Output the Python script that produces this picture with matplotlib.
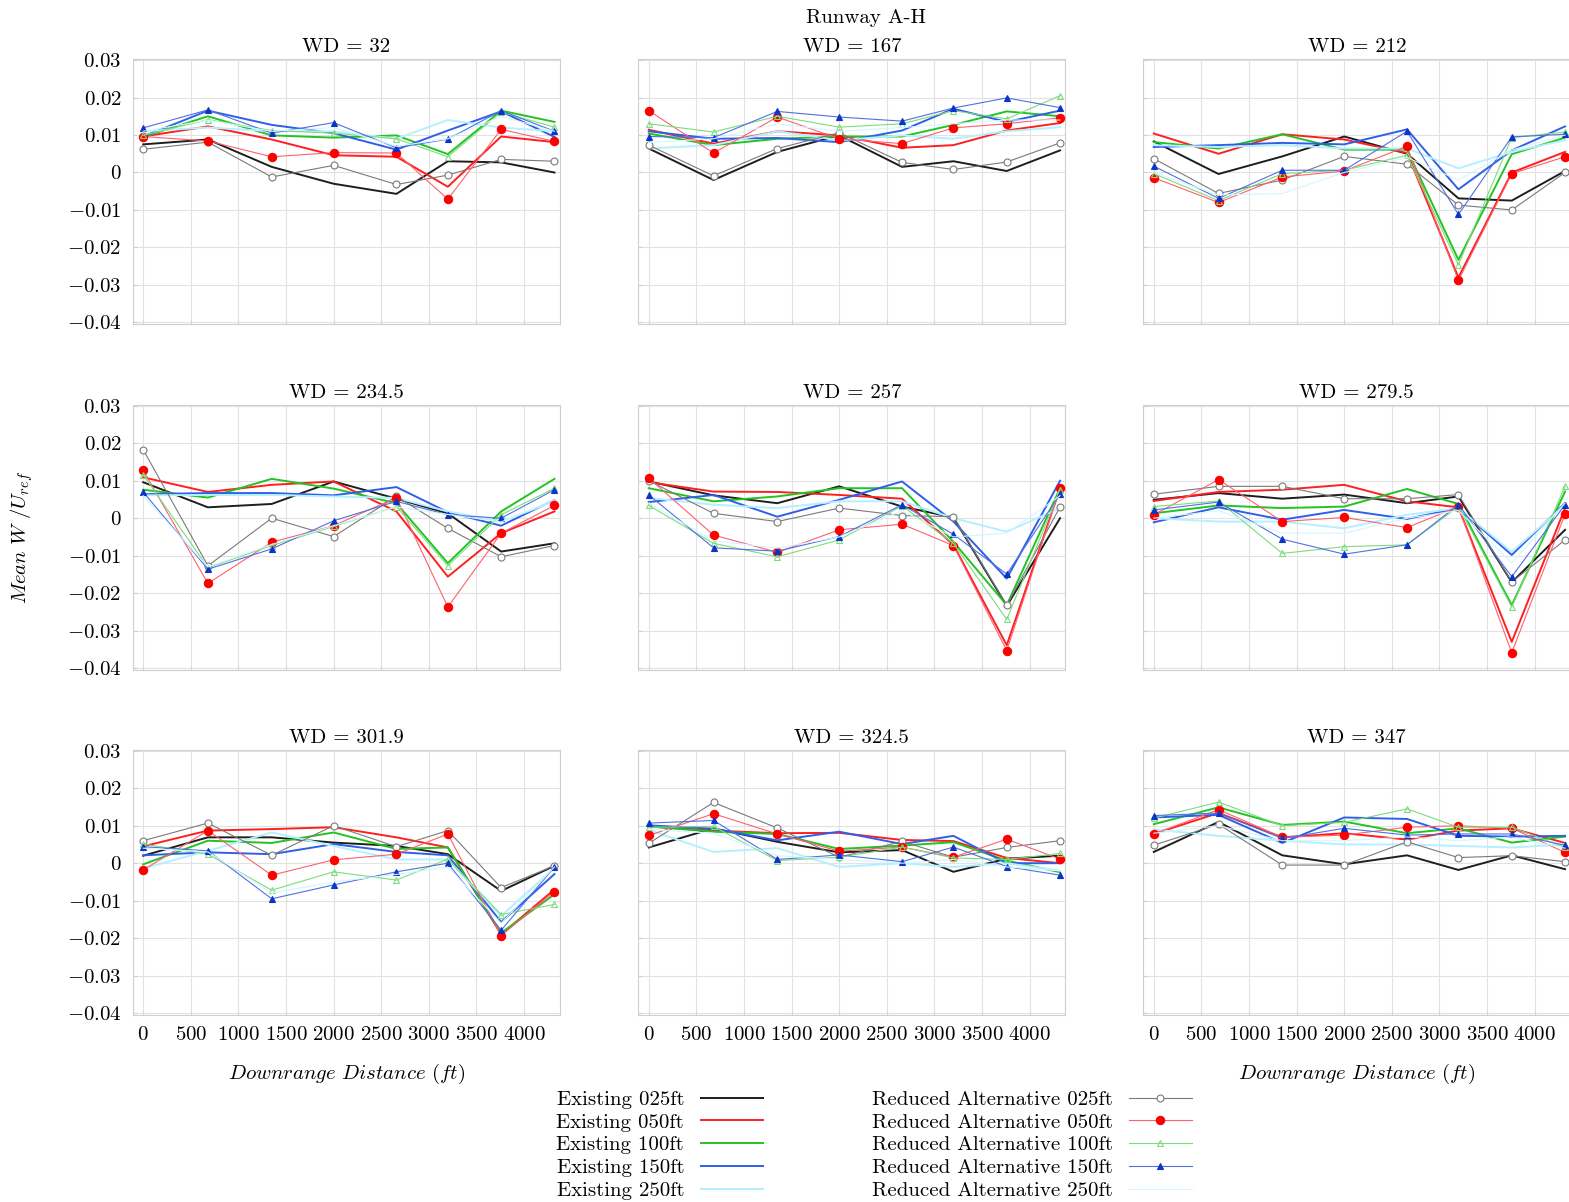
import numpy as np
import matplotlib.pyplot as plt

plt.rcParams['font.family'] = ['cmr10', 'DejaVu Serif']
plt.rcParams['mathtext.fontset'] = 'cm'
plt.rcParams['axes.unicode_minus'] = True

# downrange stations (ft)
x_ft = [0, 680, 1350, 2000, 2660, 3200, 3760, 4320]
wind_dirs = ['32', '167', '212', '234.5', '257', '279.5', '301.9', '324.5', '347']

# one row per wind direction, in the order of wind_dirs
existing_025 = [
    [0.0075, 0.0088, 0.0015, -0.0030, -0.0057, 0.0030, 0.0027, 0.0000],
    [0.0064, -0.0020, 0.0055, 0.0099, 0.0015, 0.0030, 0.0004, 0.0059],
    [0.0083, -0.0004, 0.0043, 0.0096, 0.0050, -0.0069, -0.0075, 0.0004],
    [0.0096, 0.0029, 0.0038, 0.0098, 0.0052, 0.0013, -0.0089, -0.0067],
    [0.0098, 0.0061, 0.0040, 0.0085, 0.0031, 0.0002, -0.0234, 0.0000],
    [0.0049, 0.0067, 0.0052, 0.0063, 0.0040, 0.0058, -0.0171, -0.0031],
    [0.0020, 0.0069, 0.0069, 0.0055, 0.0046, 0.0024, -0.0074, -0.0007],
    [0.0042, 0.0093, 0.0057, 0.0029, 0.0035, -0.0023, 0.0012, 0.0020],
    [0.0030, 0.0110, 0.0021, -0.0003, 0.0021, -0.0018, 0.0021, -0.0016],
]
existing_050 = [
    [0.0096, 0.0123, 0.0088, 0.0046, 0.0042, -0.0038, 0.0096, 0.0081],
    [0.0114, 0.0077, 0.0110, 0.0099, 0.0066, 0.0073, 0.0112, 0.0132],
    [0.0104, 0.0050, 0.0102, 0.0088, 0.0052, -0.0280, 0.0000, 0.0055],
    [0.0109, 0.0070, 0.0089, 0.0098, 0.0018, -0.0156, -0.0040, 0.0018],
    [0.0096, 0.0071, 0.0070, 0.0062, 0.0052, -0.0071, -0.0339, 0.0080],
    [0.0046, 0.0070, 0.0076, 0.0089, 0.0045, 0.0029, -0.0330, 0.0027],
    [0.0045, 0.0087, 0.0091, 0.0096, 0.0069, 0.0042, -0.0190, -0.0070],
    [0.0098, 0.0087, 0.0080, 0.0081, 0.0062, 0.0059, 0.0014, 0.0000],
    [0.0078, 0.0134, 0.0069, 0.0080, 0.0063, 0.0087, 0.0093, 0.0054],
]
existing_100 = [
    [0.0095, 0.0150, 0.0099, 0.0093, 0.0099, 0.0049, 0.0165, 0.0135],
    [0.0104, 0.0073, 0.0090, 0.0096, 0.0096, 0.0127, 0.0163, 0.0150],
    [0.0081, 0.0064, 0.0102, 0.0061, 0.0061, -0.0233, 0.0049, 0.0093],
    [0.0076, 0.0055, 0.0105, 0.0079, 0.0040, -0.0120, 0.0018, 0.0105],
    [0.0080, 0.0045, 0.0058, 0.0080, 0.0080, -0.0063, -0.0232, 0.0080],
    [0.0013, 0.0034, 0.0027, 0.0031, 0.0078, 0.0038, -0.0232, 0.0071],
    [-0.0003, 0.0060, 0.0054, 0.0082, 0.0038, 0.0042, -0.0186, -0.0083],
    [0.0098, 0.0084, 0.0078, 0.0038, 0.0047, 0.0056, 0.0007, -0.0024],
    [0.0104, 0.0149, 0.0102, 0.0111, 0.0080, 0.0093, 0.0055, 0.0071],
]
existing_150 = [
    [0.0096, 0.0165, 0.0127, 0.0105, 0.0061, 0.0112, 0.0163, 0.0095],
    [0.0110, 0.0090, 0.0092, 0.0081, 0.0112, 0.0170, 0.0135, 0.0165],
    [0.0068, 0.0073, 0.0079, 0.0075, 0.0115, -0.0045, 0.0059, 0.0123],
    [0.0064, 0.0067, 0.0067, 0.0061, 0.0083, 0.0016, -0.0020, 0.0049],
    [0.0043, 0.0062, 0.0004, 0.0049, 0.0098, -0.0009, -0.0161, 0.0100],
    [-0.0011, 0.0029, -0.0004, 0.0022, -0.0002, 0.0027, -0.0098, 0.0040],
    [0.0021, 0.0029, 0.0024, 0.0051, 0.0030, 0.0021, -0.0157, -0.0029],
    [0.0101, 0.0092, 0.0061, 0.0084, 0.0051, 0.0073, 0.0000, 0.0000],
    [0.0122, 0.0129, 0.0054, 0.0122, 0.0118, 0.0073, 0.0071, 0.0073],
]
existing_250 = [
    [0.0110, 0.0120, 0.0110, 0.0110, 0.0090, 0.0140, 0.0120, 0.0110],
    [0.0064, 0.0073, 0.0110, 0.0086, 0.0099, 0.0090, 0.0110, 0.0121],
    [0.0073, 0.0068, 0.0073, 0.0064, 0.0064, 0.0011, 0.0055, 0.0086],
    [0.0061, 0.0062, 0.0062, 0.0058, 0.0054, 0.0018, -0.0009, 0.0045],
    [0.0054, 0.0036, 0.0027, 0.0045, 0.0045, 0.0000, -0.0036, 0.0027],
    [0.0000, -0.0009, -0.0009, -0.0027, 0.0009, 0.0027, -0.0090, 0.0036],
    [-0.0014, 0.0033, 0.0082, 0.0046, 0.0010, 0.0010, -0.0141, -0.0012],
    [0.0089, 0.0030, 0.0040, -0.0010, 0.0000, -0.0010, 0.0000, -0.0020],
    [0.0090, 0.0073, 0.0060, 0.0050, 0.0050, 0.0046, 0.0042, 0.0050],
]
reduced_025 = [
    [0.0062, 0.0081, -0.0012, 0.0019, -0.0032, -0.0007, 0.0035, 0.0030],
    [0.0073, -0.0009, 0.0064, 0.0106, 0.0027, 0.0008, 0.0028, 0.0079],
    [0.0037, -0.0056, -0.0020, 0.0043, 0.0022, -0.0087, -0.0100, 0.0000],
    [0.0183, -0.0127, 0.0000, -0.0049, 0.0058, -0.0027, -0.0103, -0.0073],
    [0.0100, 0.0013, -0.0009, 0.0027, 0.0007, 0.0004, -0.0232, 0.0030],
    [0.0064, 0.0085, 0.0085, 0.0052, 0.0052, 0.0063, -0.0170, -0.0058],
    [0.0060, 0.0107, 0.0021, 0.0100, 0.0044, 0.0087, -0.0065, -0.0007],
    [0.0053, 0.0162, 0.0094, 0.0016, 0.0058, 0.0016, 0.0042, 0.0060],
    [0.0048, 0.0104, -0.0005, -0.0005, 0.0057, 0.0015, 0.0020, 0.0004],
]
reduced_050 = [
    [0.0096, 0.0084, 0.0042, 0.0053, 0.0052, -0.0071, 0.0115, 0.0083],
    [0.0165, 0.0052, 0.0148, 0.0090, 0.0077, 0.0119, 0.0130, 0.0146],
    [-0.0014, -0.0080, -0.0012, 0.0004, 0.0070, -0.0288, -0.0003, 0.0042],
    [0.0128, -0.0174, -0.0064, -0.0020, 0.0055, -0.0237, -0.0040, 0.0034],
    [0.0107, -0.0045, -0.0091, -0.0031, -0.0016, -0.0073, -0.0353, 0.0080],
    [0.0009, 0.0103, -0.0009, 0.0002, -0.0025, 0.0031, -0.0359, 0.0011],
    [-0.0018, 0.0087, -0.0032, 0.0009, 0.0024, 0.0078, -0.0193, -0.0076],
    [0.0074, 0.0132, 0.0078, 0.0032, 0.0043, 0.0016, 0.0064, 0.0011],
    [0.0078, 0.0143, 0.0069, 0.0075, 0.0096, 0.0100, 0.0093, 0.0029],
]
reduced_100 = [
    [0.0099, 0.0141, 0.0112, 0.0105, 0.0090, 0.0042, 0.0161, 0.0121],
    [0.0130, 0.0108, 0.0150, 0.0121, 0.0130, 0.0165, 0.0143, 0.0205],
    [-0.0003, -0.0075, -0.0003, 0.0006, 0.0046, -0.0246, 0.0093, 0.0108],
    [0.0116, -0.0132, -0.0073, -0.0022, 0.0031, -0.0127, 0.0009, 0.0080],
    [0.0034, -0.0067, -0.0103, -0.0058, 0.0033, -0.0067, -0.0270, 0.0076],
    [0.0031, 0.0046, -0.0094, -0.0076, -0.0071, 0.0031, -0.0237, 0.0085],
    [0.0051, 0.0024, -0.0072, -0.0023, -0.0045, 0.0011, -0.0137, -0.0110],
    [0.0096, 0.0098, 0.0007, 0.0016, 0.0043, 0.0014, 0.0010, 0.0026],
    [0.0120, 0.0163, 0.0100, 0.0109, 0.0145, 0.0096, 0.0096, 0.0042],
]
reduced_150 = [
    [0.0119, 0.0167, 0.0105, 0.0133, 0.0066, 0.0089, 0.0165, 0.0110],
    [0.0096, 0.0093, 0.0163, 0.0148, 0.0137, 0.0172, 0.0199, 0.0173],
    [0.0017, -0.0069, 0.0006, 0.0006, 0.0110, -0.0112, 0.0095, 0.0102],
    [0.0070, -0.0136, -0.0082, -0.0007, 0.0045, 0.0009, 0.0000, 0.0076],
    [0.0062, -0.0079, -0.0088, -0.0049, 0.0036, -0.0043, -0.0149, 0.0064],
    [0.0022, 0.0043, -0.0056, -0.0096, -0.0071, 0.0036, -0.0156, 0.0036],
    [0.0044, 0.0033, -0.0095, -0.0058, -0.0023, 0.0000, -0.0179, -0.0010],
    [0.0107, 0.0114, 0.0010, 0.0022, 0.0004, 0.0043, -0.0009, -0.0032],
    [0.0127, 0.0134, 0.0066, 0.0093, 0.0075, 0.0078, 0.0078, 0.0048],
]
reduced_250 = [
    [0.0110, 0.0140, 0.0110, 0.0120, 0.0070, 0.0090, 0.0150, 0.0110],
    [0.0080, 0.0090, 0.0130, 0.0110, 0.0120, 0.0130, 0.0140, 0.0140],
    [0.0000, -0.0060, -0.0056, 0.0000, 0.0040, -0.0020, 0.0060, 0.0100],
    [0.0060, -0.0130, -0.0070, -0.0020, 0.0030, 0.0010, -0.0010, 0.0050],
    [0.0040, -0.0060, -0.0080, -0.0050, 0.0020, -0.0050, -0.0040, 0.0060],
    [0.0000, 0.0020, -0.0040, -0.0040, 0.0000, 0.0020, -0.0120, 0.0040],
    [0.0040, 0.0030, -0.0080, -0.0050, -0.0030, -0.0010, -0.0160, -0.0010],
    [0.0090, 0.0080, 0.0020, 0.0010, 0.0000, 0.0010, -0.0010, -0.0020],
    [0.0080, 0.0100, 0.0060, 0.0060, 0.0070, 0.0060, 0.0070, 0.0040],
]

existing = [
    ('Existing 025ft', existing_025, '#1e1e1e'),
    ('Existing 050ft', existing_050, '#ff1f1f'),
    ('Existing 100ft', existing_100, '#22c322'),
    ('Existing 150ft', existing_150, '#2f5fe8'),
    ('Existing 250ft', existing_250, '#b4f0ff'),
]
reduced = [
    ('Reduced Alternative 025ft', reduced_025, '#7a7a7a', 'o', 'white', 5),
    ('Reduced Alternative 050ft', reduced_050, '#ff6070', 'o', '#ff0000', 6),
    ('Reduced Alternative 100ft', reduced_100, '#7ddc7d', '^', 'none', 4),
    ('Reduced Alternative 150ft', reduced_150, '#5070e0', '^', '#0a35c8', 5),
    ('Reduced Alternative 250ft', reduced_250, '#d2f6ff', None, None, 0),
]

W, H = 1569, 1202
fig = plt.figure(figsize=(W / 100, H / 100), dpi=100)

col_left = [132.7, 638.3, 1143.3]
row_top = [59.3, 405, 750]
ax_w, ax_h = 427, 265

yticks = [-0.04, -0.03, -0.02, -0.01, 0, 0.01, 0.02, 0.03]
ylabels = ['$-0.04$', '$-0.03$', '$-0.02$', '$-0.01$', '$0$', '$0.01$', '$0.02$', '$0.03$']
xticks = [0, 500, 1000, 1500, 2000, 2500, 3000, 3500, 4000]

handles_e, handles_r = [], []
for i, wd in enumerate(wind_dirs):
    r, c = divmod(i, 3)
    ax = fig.add_axes([col_left[c] / W, 1 - (row_top[r] + ax_h) / H, ax_w / W, ax_h / H])
    for lab, data, col in existing:
        h, = ax.plot(x_ft, data[i], color=col, lw=1.4, label=lab, zorder=3)
        if i == 0:
            handles_e.append(h)
    for lab, data, col, mk, mfc, ms in reduced:
        h, = ax.plot(x_ft, data[i], color=col, lw=0.8, marker=mk, ms=ms,
                     mfc=mfc, mec=(col if mfc in ('white', 'none') else mfc),
                     mew=0.8, label=lab, zorder=4)
        if i == 0:
            handles_r.append(h)
    ax.set_xlim(-110, 4375)
    ax.set_ylim(-0.0405, 0.0302)
    ax.set_xticks(xticks)
    ax.set_yticks(yticks)
    ax.grid(color='#e2e2e2', lw=0.8)
    ax.set_axisbelow(True)
    for s in ax.spines.values():
        s.set_color('#cfcfcf')
        s.set_linewidth(0.8)
    ax.tick_params(direction='in', length=3, color='#cfcfcf', labelsize=15, pad=8)
    if c == 0:
        ax.set_yticklabels(ylabels)
    else:
        ax.set_yticklabels([])
    if r == 2:
        ax.set_xticklabels([f'${t}$' for t in xticks])
    else:
        ax.set_xticklabels([])
    ax.set_title(f'WD = {wd}', fontsize=15, pad=5)
    if r == 2 and c != 1:
        ax.set_xlabel(r'$Downrange\ Distance\ (ft)$', fontsize=15, labelpad=13)

fig.text(866 / W, 1 - 18 / H, 'Runway A-H', ha='center', va='center', fontsize=15)
fig.text(22 / W, 1 - 537 / H, r'$Mean\ W\ /U_{ref}$', rotation=90,
         ha='center', va='center', fontsize=15)

fig.legend(handles_e + handles_r, [h.get_label() for h in handles_e + handles_r],
           ncol=2, loc='upper center', bbox_to_anchor=(874 / W, 1 - 1080 / H),
           frameon=False, markerfirst=False, fontsize=15, handlelength=3.0,
           labelspacing=0.2, columnspacing=5.2, handletextpad=0.8, borderpad=0)

fig.savefig('out.png', dpi=100)
